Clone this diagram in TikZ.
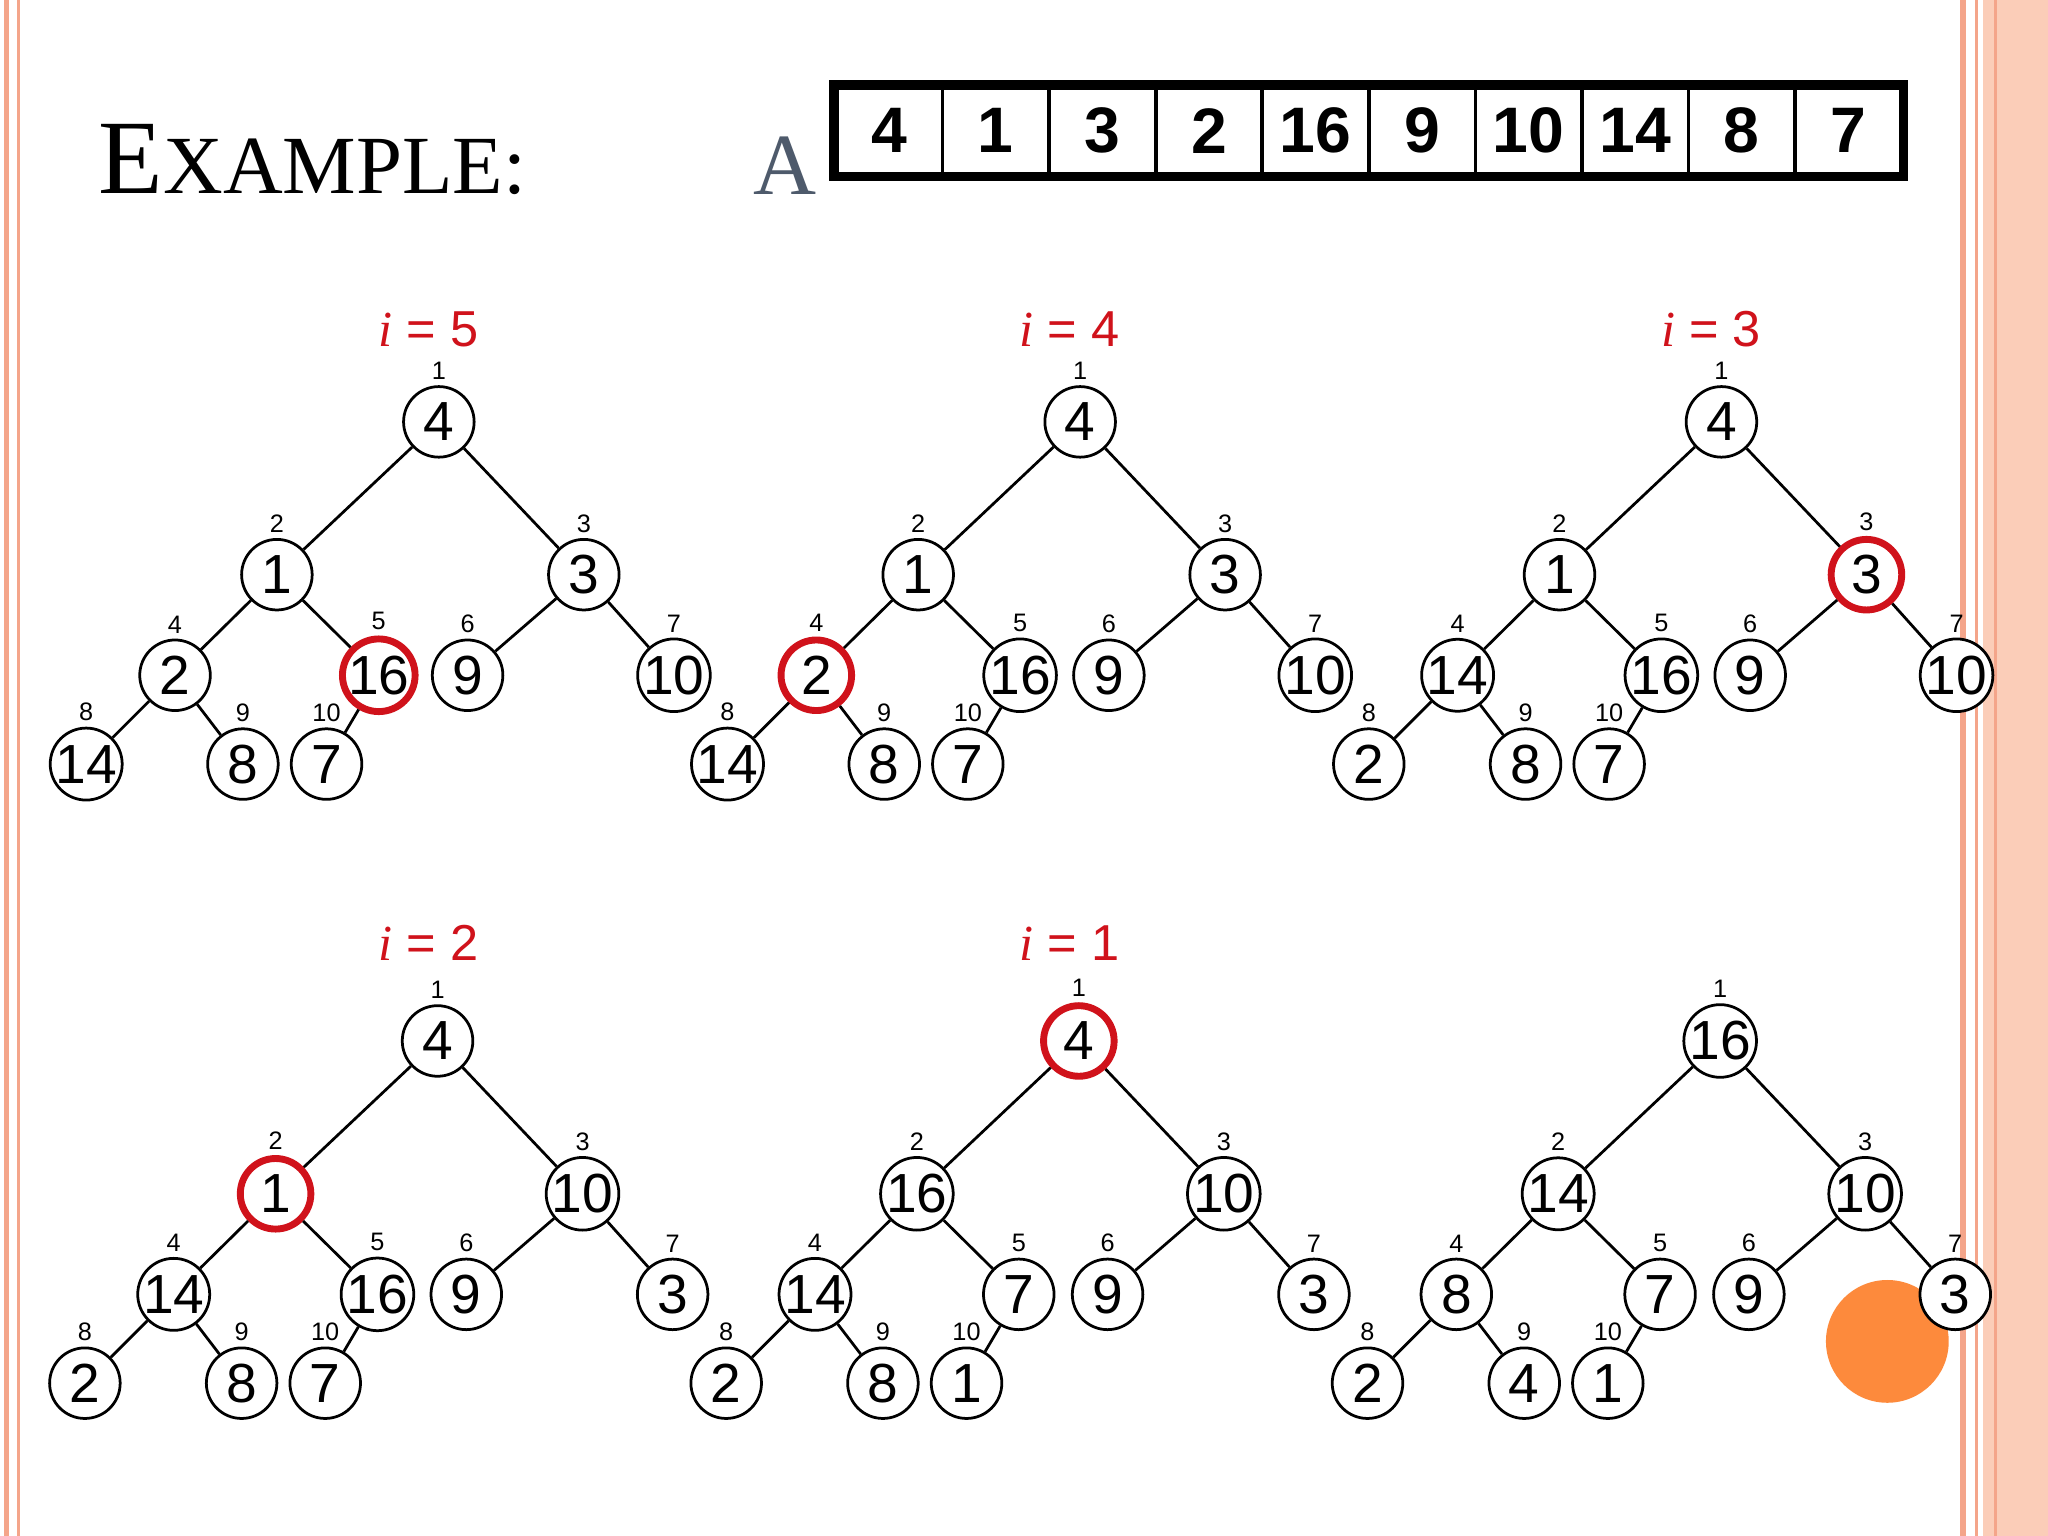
\documentclass[tikz,border=0pt]{standalone}
\usepackage{fontspec}
\setmainfont{Liberation Serif}
\newfontfamily\arial{Liberation Sans}
\definecolor{hotred}{HTML}{D0121B}
\definecolor{peach}{HTML}{FBCDB8}
\definecolor{rim}{HTML}{F4A58A}
\definecolor{dot}{HTML}{FD8A3C}
\definecolor{slate}{HTML}{4E5A6B}
\newcommand\ivar{{\rmfamily\itshape i}}
\tikzset{
  heapnode/.style={draw,circle,fill=white,line width=0.6pt,minimum size=0.54cm,inner sep=0pt,
    font=\arial\fontsize{12}{12}\selectfont},
  hot/.style={heapnode,draw=hotred,line width=1.5pt},
  idx/.style={font=\arial\fontsize{5.5}{6}\selectfont,inner sep=1pt,label distance=0pt},
  cell/.style={draw,line width=0.8pt,minimum width=0.816cm,minimum height=0.67cm,
    inner sep=0pt,font=\arial\bfseries\fontsize{14}{14}\selectfont},
  steplbl/.style={text=hotred,font=\arial\fontsize{11}{11}\selectfont}
}
% one heap: #1 name, #2/#3 shift, #4 keys, #5 red node
\newcommand\heaptree[5]{
  \begin{scope}[shift={(#2,#3)}]
    \coordinate (p1) at (336,323); \coordinate (p2) at (212,440);
    \coordinate (p3) at (447,440); \coordinate (p4) at (134,517);
    \coordinate (p5) at (290,517); \coordinate (p6) at (358,517);
    \coordinate (p7) at (516,517); \coordinate (p8) at (66,585);
    \coordinate (p9) at (186,585); \coordinate (p10) at (250,585);
    \foreach \v [count=\j] in {#4}{
      \ifnum\j=#5\def\st{hot}\else\def\st{heapnode}\fi
      \node[\st,label={[idx]above:\j}] (#1-\j) at (p\j) {\v};
    }
    \foreach \a/\b in {1/2,1/3,2/4,2/5,3/6,3/7,4/8,4/9,5/10}
      \draw[line width=0.6pt] (#1-\a) -- (#1-\b);
  \end{scope}
}

\begin{document}
\begin{tikzpicture}[x=0.01cm,y=-0.01cm]
  \fill[white] (0,0) rectangle (1568,1176);
  \useasboundingbox (0,0) rectangle (1568,1176);
  % frame
  \draw[rim,line width=1.2pt] (5,0) -- (5,1176);
  \draw[rim,line width=0.6pt] (14,0) -- (14,1176);
  \fill[peach] (1518,0) rectangle (1568,1176);
  \draw[rim,line width=1.2pt] (1503,0) -- (1503,1176);
  \draw[rim,line width=0.6pt] (1513,0) -- (1513,1176);
  \draw[rim,line width=0.6pt] (1528,0) -- (1528,1176);
  \fill[dot] (1445,1027) circle (47);

  % title and array
  \node[anchor=west,inner sep=0pt] (title) at (75,122)
    {\fontsize{23}{23}\selectfont E\fontsize{18}{18}\selectfont XAMPLE:};
  \node[text=slate,inner sep=0pt] (arr) at (601,127) {\fontsize{19}{19}\selectfont A};
  \foreach \v [count=\j] in {4,1,3,2,16,9,10,14,8,7}
    \node[cell] (a\j) at ({640+81.6*(\j-0.5)},100) {\v};
  \draw[line width=2pt] (a1.north west) rectangle (a10.south east);

  % steps
  \node[steplbl] (s5) at (328,252) {\ivar{} = 5};
  \node[steplbl] (s4) at (819,252) {\ivar{} = 4};
  \node[steplbl] (s3) at (1310,252) {\ivar{} = 3};
  \node[steplbl] (s2) at (328,722) {\ivar{} = 2};
  \node[steplbl] (s1) at (819,722) {\ivar{} = 1};

  \heaptree{ta}{0}{0}{4,1,3,2,16,9,10,14,8,7}{5}
  \heaptree{tb}{491}{0}{4,1,3,2,16,9,10,14,8,7}{4}
  \heaptree{tc}{982}{0}{4,1,3,14,16,9,10,2,8,7}{3}
  \heaptree{td}{-1}{474}{4,1,10,14,16,9,3,2,8,7}{2}
  \heaptree{te}{490}{474}{4,16,10,14,7,9,3,2,8,1}{1}
  \heaptree{tf}{981}{474}{16,14,10,8,7,9,3,2,4,1}{0}
\end{tikzpicture}
\end{document}
